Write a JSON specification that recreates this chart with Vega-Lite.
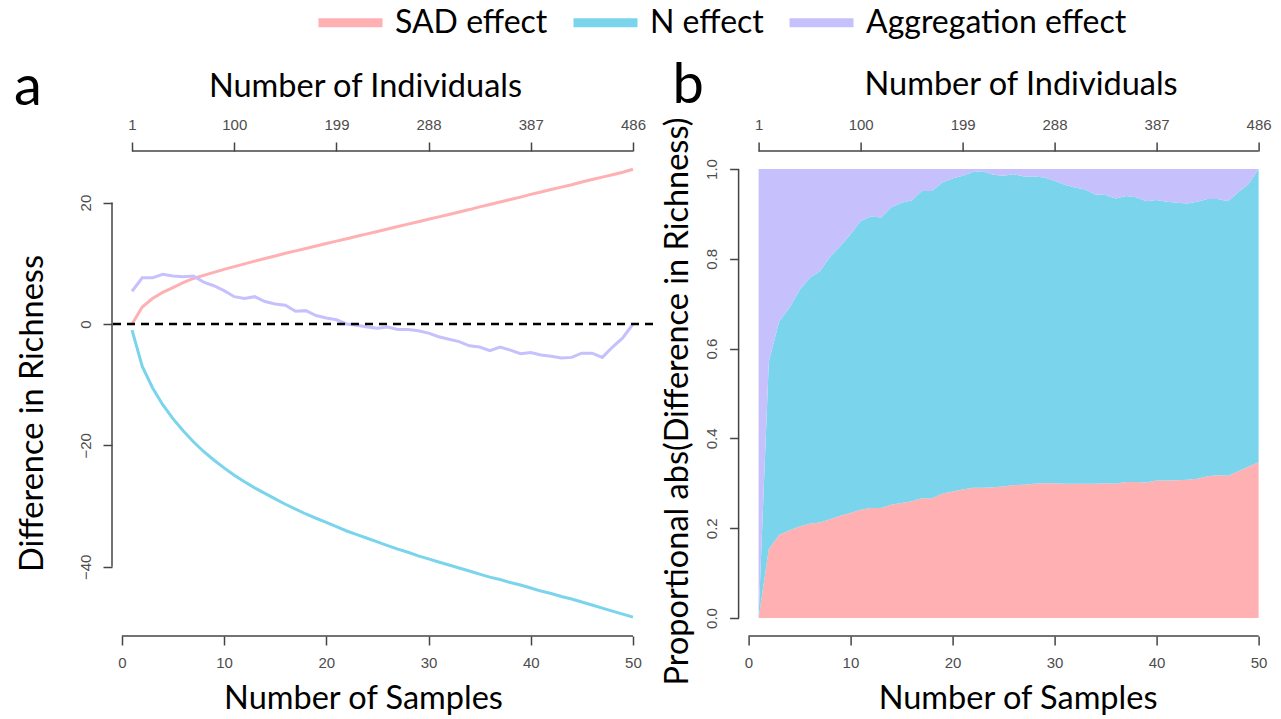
{
  "$schema": "https://vega.github.io/schema/vega-lite/v6.json",
  "autosize": {"type": "pad"},
  "padding": {"left": 14, "top": -14, "right": 0, "bottom": 0},
  "background": "white",
  "config": {
    "view": {"stroke": null},
    "font": "Lato",
    "axis": {
      "grid": false, "domain": false,
      "tickColor": "#444444", "tickWidth": 1.5, "tickSize": 9,
      "labelFont": "Liberation Sans", "labelFontSize": 15, "labelColor": "#4d4d4d", "labelPadding": 10,
      "titleFont": "Lato", "titleFontSize": 32.5, "titleFontWeight": "normal", "titleColor": "#000000"
    }
  },
  "datasets": {
    "rich": [
      {"s":1,"SAD effect":0,"N effect":-1.0,"Aggregation effect":5.4},
      {"s":2,"SAD effect":2.8,"N effect":-7.0,"Aggregation effect":7.6},
      {"s":3,"SAD effect":4.2,"N effect":-10.5,"Aggregation effect":7.6},
      {"s":4,"SAD effect":5.2,"N effect":-13.3,"Aggregation effect":8.2},
      {"s":5,"SAD effect":6.0,"N effect":-15.6,"Aggregation effect":7.9},
      {"s":6,"SAD effect":6.8,"N effect":-17.6,"Aggregation effect":7.8},
      {"s":7,"SAD effect":7.5,"N effect":-19.4,"Aggregation effect":7.9},
      {"s":8,"SAD effect":8.0,"N effect":-21.0,"Aggregation effect":6.9},
      {"s":9,"SAD effect":8.5,"N effect":-22.4,"Aggregation effect":6.3},
      {"s":10,"SAD effect":9.0,"N effect":-23.7,"Aggregation effect":5.5},
      {"s":11,"SAD effect":9.45,"N effect":-24.9,"Aggregation effect":4.5},
      {"s":12,"SAD effect":9.9,"N effect":-26.0,"Aggregation effect":4.2},
      {"s":13,"SAD effect":10.35,"N effect":-27.0,"Aggregation effect":4.5},
      {"s":14,"SAD effect":10.8,"N effect":-27.9,"Aggregation effect":3.7},
      {"s":15,"SAD effect":11.2,"N effect":-28.8,"Aggregation effect":3.3},
      {"s":16,"SAD effect":11.65,"N effect":-29.7,"Aggregation effect":3.1},
      {"s":17,"SAD effect":12.05,"N effect":-30.5,"Aggregation effect":2.1},
      {"s":18,"SAD effect":12.45,"N effect":-31.3,"Aggregation effect":2.2},
      {"s":19,"SAD effect":12.85,"N effect":-32.0,"Aggregation effect":1.4},
      {"s":20,"SAD effect":13.25,"N effect":-32.7,"Aggregation effect":1.0},
      {"s":21,"SAD effect":13.65,"N effect":-33.4,"Aggregation effect":0.7},
      {"s":22,"SAD effect":14.05,"N effect":-34.1,"Aggregation effect":0.0},
      {"s":23,"SAD effect":14.45,"N effect":-34.7,"Aggregation effect":-0.2},
      {"s":24,"SAD effect":14.85,"N effect":-35.3,"Aggregation effect":-0.5},
      {"s":25,"SAD effect":15.25,"N effect":-35.9,"Aggregation effect":-0.7},
      {"s":26,"SAD effect":15.65,"N effect":-36.5,"Aggregation effect":-0.5},
      {"s":27,"SAD effect":16.05,"N effect":-37.1,"Aggregation effect":-0.9},
      {"s":28,"SAD effect":16.45,"N effect":-37.6,"Aggregation effect":-0.9},
      {"s":29,"SAD effect":16.85,"N effect":-38.2,"Aggregation effect":-1.1},
      {"s":30,"SAD effect":17.25,"N effect":-38.7,"Aggregation effect":-1.5},
      {"s":31,"SAD effect":17.65,"N effect":-39.2,"Aggregation effect":-2.1},
      {"s":32,"SAD effect":18.05,"N effect":-39.7,"Aggregation effect":-2.5},
      {"s":33,"SAD effect":18.45,"N effect":-40.2,"Aggregation effect":-2.9},
      {"s":34,"SAD effect":18.85,"N effect":-40.7,"Aggregation effect":-3.6},
      {"s":35,"SAD effect":19.3,"N effect":-41.2,"Aggregation effect":-3.8},
      {"s":36,"SAD effect":19.7,"N effect":-41.7,"Aggregation effect":-4.4},
      {"s":37,"SAD effect":20.1,"N effect":-42.1,"Aggregation effect":-3.8},
      {"s":38,"SAD effect":20.5,"N effect":-42.6,"Aggregation effect":-4.3},
      {"s":39,"SAD effect":20.9,"N effect":-43.0,"Aggregation effect":-4.9},
      {"s":40,"SAD effect":21.35,"N effect":-43.5,"Aggregation effect":-4.7},
      {"s":41,"SAD effect":21.75,"N effect":-44.0,"Aggregation effect":-5.1},
      {"s":42,"SAD effect":22.15,"N effect":-44.4,"Aggregation effect":-5.3},
      {"s":43,"SAD effect":22.55,"N effect":-44.9,"Aggregation effect":-5.6},
      {"s":44,"SAD effect":22.95,"N effect":-45.3,"Aggregation effect":-5.5},
      {"s":45,"SAD effect":23.4,"N effect":-45.8,"Aggregation effect":-4.8},
      {"s":46,"SAD effect":23.8,"N effect":-46.3,"Aggregation effect":-4.8},
      {"s":47,"SAD effect":24.2,"N effect":-46.8,"Aggregation effect":-5.5},
      {"s":48,"SAD effect":24.6,"N effect":-47.3,"Aggregation effect":-3.8},
      {"s":49,"SAD effect":25.0,"N effect":-47.8,"Aggregation effect":-2.3},
      {"s":50,"SAD effect":25.5,"N effect":-48.3,"Aggregation effect":0.0}
    ],
    "prop": [
      {"s":1,"SAD effect":0,"N effect":0,"Aggregation effect":1},
      {"s":2,"SAD effect":0.154,"N effect":0.416,"Aggregation effect":0.43},
      {"s":3,"SAD effect":0.185,"N effect":0.475,"Aggregation effect":0.34},
      {"s":4,"SAD effect":0.195,"N effect":0.495,"Aggregation effect":0.31},
      {"s":5,"SAD effect":0.204,"N effect":0.526,"Aggregation effect":0.27},
      {"s":6,"SAD effect":0.21,"N effect":0.547,"Aggregation effect":0.243},
      {"s":7,"SAD effect":0.213,"N effect":0.559,"Aggregation effect":0.228},
      {"s":8,"SAD effect":0.22,"N effect":0.584,"Aggregation effect":0.196},
      {"s":9,"SAD effect":0.228,"N effect":0.6,"Aggregation effect":0.172},
      {"s":10,"SAD effect":0.234,"N effect":0.62,"Aggregation effect":0.146},
      {"s":11,"SAD effect":0.241,"N effect":0.643,"Aggregation effect":0.116},
      {"s":12,"SAD effect":0.245,"N effect":0.649,"Aggregation effect":0.106},
      {"s":13,"SAD effect":0.245,"N effect":0.647,"Aggregation effect":0.108},
      {"s":14,"SAD effect":0.252,"N effect":0.662,"Aggregation effect":0.086},
      {"s":15,"SAD effect":0.256,"N effect":0.669,"Aggregation effect":0.075},
      {"s":16,"SAD effect":0.26,"N effect":0.67,"Aggregation effect":0.07},
      {"s":17,"SAD effect":0.267,"N effect":0.684,"Aggregation effect":0.049},
      {"s":18,"SAD effect":0.267,"N effect":0.684,"Aggregation effect":0.049},
      {"s":19,"SAD effect":0.277,"N effect":0.693,"Aggregation effect":0.03},
      {"s":20,"SAD effect":0.282,"N effect":0.697,"Aggregation effect":0.021},
      {"s":21,"SAD effect":0.286,"N effect":0.699,"Aggregation effect":0.015},
      {"s":22,"SAD effect":0.29,"N effect":0.703,"Aggregation effect":0.007},
      {"s":23,"SAD effect":0.29,"N effect":0.705,"Aggregation effect":0.005},
      {"s":24,"SAD effect":0.291,"N effect":0.696,"Aggregation effect":0.013},
      {"s":25,"SAD effect":0.293,"N effect":0.692,"Aggregation effect":0.015},
      {"s":26,"SAD effect":0.296,"N effect":0.692,"Aggregation effect":0.012},
      {"s":27,"SAD effect":0.297,"N effect":0.686,"Aggregation effect":0.017},
      {"s":28,"SAD effect":0.299,"N effect":0.684,"Aggregation effect":0.017},
      {"s":29,"SAD effect":0.3,"N effect":0.681,"Aggregation effect":0.019},
      {"s":30,"SAD effect":0.3,"N effect":0.674,"Aggregation effect":0.026},
      {"s":31,"SAD effect":0.299,"N effect":0.666,"Aggregation effect":0.035},
      {"s":32,"SAD effect":0.299,"N effect":0.66,"Aggregation effect":0.041},
      {"s":33,"SAD effect":0.299,"N effect":0.655,"Aggregation effect":0.046},
      {"s":34,"SAD effect":0.299,"N effect":0.644,"Aggregation effect":0.057},
      {"s":35,"SAD effect":0.3,"N effect":0.642,"Aggregation effect":0.058},
      {"s":36,"SAD effect":0.299,"N effect":0.635,"Aggregation effect":0.066},
      {"s":37,"SAD effect":0.303,"N effect":0.637,"Aggregation effect":0.06},
      {"s":38,"SAD effect":0.303,"N effect":0.634,"Aggregation effect":0.063},
      {"s":39,"SAD effect":0.302,"N effect":0.626,"Aggregation effect":0.072},
      {"s":40,"SAD effect":0.306,"N effect":0.625,"Aggregation effect":0.069},
      {"s":41,"SAD effect":0.306,"N effect":0.621,"Aggregation effect":0.073},
      {"s":42,"SAD effect":0.307,"N effect":0.618,"Aggregation effect":0.075},
      {"s":43,"SAD effect":0.308,"N effect":0.615,"Aggregation effect":0.077},
      {"s":44,"SAD effect":0.31,"N effect":0.617,"Aggregation effect":0.073},
      {"s":45,"SAD effect":0.316,"N effect":0.617,"Aggregation effect":0.067},
      {"s":46,"SAD effect":0.318,"N effect":0.615,"Aggregation effect":0.067},
      {"s":47,"SAD effect":0.317,"N effect":0.611,"Aggregation effect":0.072},
      {"s":48,"SAD effect":0.327,"N effect":0.621,"Aggregation effect":0.052},
      {"s":49,"SAD effect":0.337,"N effect":0.629,"Aggregation effect":0.034},
      {"s":50,"SAD effect":0.347,"N effect":0.653,"Aggregation effect":0.0}
    ]
  },
  "bounds": "flush",
  "spacing": 85.6,
  "hconcat": [
    {
      "width": 541,
      "height": 485,
      "title": {"text": "a", "anchor": "start", "frame": "group", "font": "Lato", "fontSize": 56, "fontWeight": "normal", "color": "#000000", "dx": -98, "dy": 91, "offset": 0, "baseline": "alphabetic"},
      "resolve": {"axis": {"x": "independent"}},
      "layer": [
        {
          "data": {"name": "rich"},
          "transform": [{"fold": ["SAD effect", "N effect", "Aggregation effect"], "as": ["effect", "value"]}],
          "mark": {"type": "line", "strokeWidth": 3},
          "encoding": {
            "x": {"field": "s", "type": "quantitative",
                  "scale": {"domain": [-0.96, 51.96], "nice": false, "zero": false},
                  "axis": {"orient": "bottom", "values": [0, 10, 20, 30, 40, 50], "title": "Number of Samples",
                           "titleX": 251, "titleY": 72, "titleAlign": "center", "titleBaseline": "alphabetic"}},
            "y": {"field": "value", "type": "quantitative",
                  "scale": {"domain": [-51.4, 28.5], "nice": false, "zero": false},
                  "axis": {"values": [-40, -20, 0, 20], "labelAngle": 270, "title": "Difference in Richness",
                           "titleAngle": 270, "titleX": -70, "titleY": 262, "titleAlign": "center", "titleBaseline": "alphabetic"}},
            "color": {"field": "effect", "type": "nominal",
                      "scale": {"domain": ["SAD effect", "N effect", "Aggregation effect"], "range": ["#FFB0B3", "#7AD4EC", "#C6C1FC"]},
                      "legend": {"orient": "none", "legendX": 202, "legendY": -165, "direction": "horizontal", "title": null,
                                 "symbolType": "stroke", "symbolSize": 4096, "symbolStrokeWidth": 9, "symbolOpacity": 1,
                                 "labelFont": "Lato", "labelFontSize": 32, "labelColor": "#000000", "labelLimit": 0,
                                 "labelOffset": 8, "columnPadding": 7, "padding": 0}},
            "detail": {"field": "effect"}
          }
        },
        {
          "data": {"values": [{}]},
          "mark": {"type": "rule", "color": "#000000", "strokeWidth": 2.5, "strokeDash": [8, 6]},
          "encoding": {"y": {"datum": 0, "type": "quantitative"}}
        },
        {
          "data": {"values": [{}]},
          "mark": {"type": "rule", "color": "#444444", "strokeWidth": 1.5},
          "encoding": {
            "x": {"datum": -0.96, "type": "quantitative", "axis": null},
            "y": {"datum": -40, "type": "quantitative"},
            "y2": {"datum": 20}
          }
        },
        {
          "data": {"values": [{}]},
          "mark": {"type": "rule", "color": "#444444", "strokeWidth": 1.5},
          "encoding": {
            "x": {"datum": 0, "type": "quantitative", "axis": null},
            "x2": {"datum": 50},
            "y": {"datum": -51.4, "type": "quantitative"}
          }
        },
        {
          "data": {"values": [{}]},
          "mark": {"type": "rule", "color": "#444444", "strokeWidth": 1.5},
          "encoding": {
            "x": {"datum": 1, "type": "quantitative",
                  "axis": {"orient": "top", "values": [1, 11, 21, 30, 40, 50],
                           "labelExpr": "datum.value == 1 ? '1' : datum.value == 11 ? '100' : datum.value == 21 ? '199' : datum.value == 30 ? '288' : datum.value == 40 ? '387' : '486'",
                           "title": "Number of Individuals", "titleX": 253, "titleY": -55, "titleAlign": "center", "titleBaseline": "alphabetic"}},
            "x2": {"datum": 50},
            "y": {"datum": 28.5, "type": "quantitative"}
          }
        }
      ]
    },
    {
      "width": 540,
      "height": 485,
      "title": {"text": "b", "anchor": "start", "frame": "group", "font": "Lato", "fontSize": 56, "fontWeight": "normal", "color": "#000000", "dx": -66, "dy": 91, "offset": 0, "baseline": "alphabetic"},
      "resolve": {"axis": {"x": "independent"}},
      "layer": [
        {
          "data": {"name": "prop"},
          "transform": [{"fold": ["SAD effect", "N effect", "Aggregation effect"], "as": ["effect", "value"]}],
          "mark": {"type": "area"},
          "encoding": {
            "x": {"field": "s", "type": "quantitative",
                  "scale": {"domain": [-0.96, 51.96], "nice": false, "zero": false},
                  "axis": {"orient": "bottom", "values": [0, 10, 20, 30, 40, 50], "title": "Number of Samples",
                           "titleX": 279, "titleY": 72, "titleAlign": "center", "titleBaseline": "alphabetic"}},
            "y": {"field": "value", "type": "quantitative", "stack": "zero",
                  "scale": {"domain": [-0.04, 1.04], "nice": false, "zero": false},
                  "axis": {"values": [0, 0.2, 0.4, 0.6, 0.8, 1.0], "format": ".1f", "labelAngle": 270,
                           "title": "Proportional abs(Difference in Richness)",
                           "titleAngle": 270, "titleX": -51, "titleY": 250, "titleAlign": "center", "titleBaseline": "alphabetic"}},
            "color": {"field": "effect", "type": "nominal",
                      "scale": {"domain": ["SAD effect", "N effect", "Aggregation effect"], "range": ["#FFB0B3", "#7AD4EC", "#C6C1FC"]},
                      "legend": null},
            "order": {"field": "effect", "sort": "descending"}
          }
        },
        {
          "data": {"values": [{}]},
          "mark": {"type": "rule", "color": "#444444", "strokeWidth": 1.5},
          "encoding": {
            "x": {"datum": -0.96, "type": "quantitative", "axis": null},
            "y": {"datum": 0, "type": "quantitative"},
            "y2": {"datum": 1}
          }
        },
        {
          "data": {"values": [{}]},
          "mark": {"type": "rule", "color": "#444444", "strokeWidth": 1.5},
          "encoding": {
            "x": {"datum": 0, "type": "quantitative", "axis": null},
            "x2": {"datum": 50},
            "y": {"datum": -0.04, "type": "quantitative"}
          }
        },
        {
          "data": {"values": [{}]},
          "mark": {"type": "rule", "color": "#444444", "strokeWidth": 1.5},
          "encoding": {
            "x": {"datum": 1, "type": "quantitative",
                  "axis": {"orient": "top", "values": [1, 11, 21, 30, 40, 50],
                           "labelExpr": "datum.value == 1 ? '1' : datum.value == 11 ? '100' : datum.value == 21 ? '199' : datum.value == 30 ? '288' : datum.value == 40 ? '387' : '486'",
                           "title": "Number of Individuals", "titleX": 282, "titleY": -57, "titleAlign": "center", "titleBaseline": "alphabetic"}},
            "x2": {"datum": 50},
            "y": {"datum": 1.04, "type": "quantitative"}
          }
        }
      ]
    }
  ]
}
